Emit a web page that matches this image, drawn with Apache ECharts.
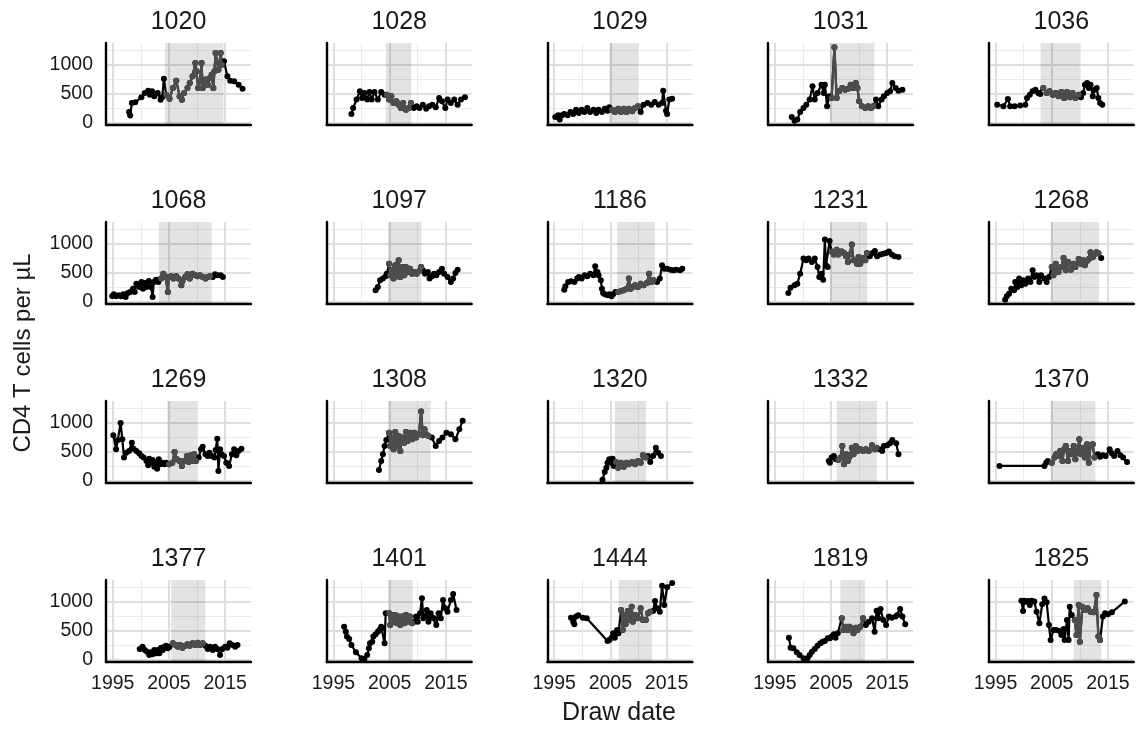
<!DOCTYPE html>
<html>
<head>
<meta charset="utf-8">
<script src="https://cdn.jsdelivr.net/npm/echarts@6/dist/echarts.min.js"></script>
<style>
html,body{margin:0;padding:0;background:#fff;}
#chart{width:1137px;height:731px;}
</style>
</head>
<body>
<div id="chart"></div>
<script>
// ---------- DATA ----------
const ids = ['1020','1028','1029','1031','1036','1068','1097','1186','1231','1268','1269','1308','1320','1332','1370','1377','1401','1444','1819','1825'];

const shadeStart = [2004.3, 2004.3, 2004.85, 2004.8, 2003.0, 2003.2, 2004.7, 2006.2, 2004.8, 2004.8, 2004.7, 2004.7, 2005.8, 2006.0, 2004.8, 2005.4, 2004.7, 2006.5, 2006.65, 2008.9];
const shadeEnd   = [2014.7, 2008.85, 2009.95, 2012.7, 2010.0, 2012.6, 2010.65, 2012.95, 2011.45, 2013.4, 2010.0, 2012.3, 2011.35, 2013.2, 2012.75, 2011.45, 2009.1, 2012.4, 2011.06, 2013.8];

const xTicks = [1995, 2005, 2015];
const xMinor = [2000, 2010];
const yTicks = [0, 500, 1000];
const yMinor = [250, 750, 1250];

const d1020 = [[1997.9,190],[1998.1,130],[1998.4,345],[1999.0,356],[2000.1,443],[2000.7,517],[2001.3,557],[2001.6,489],[2002.0,546],[2002.4,460],[2003.0,517],[2003.5,402],[2003.8,443],[2004.1,765],[2004.5,489],[2005.1,420],[2005.7,604],[2006.3,730],[2006.9,460],[2007.3,402],[2007.7,517],[2008.3,604],[2008.7,690],[2009.2,805],[2009.7,1035],[2009.9,891],[2010.2,604],[2010.5,719],[2010.8,1035],[2011.0,604],[2011.5,748],[2011.9,661],[2012.3,776],[2012.6,834],[2012.9,604],[2013.1,891],[2013.3,1208],[2013.8,920],[2014.2,1208],[2014.4,1006],[2014.8,1064],[2015.4,805],[2015.9,730],[2016.6,719],[2017.4,661],[2018.1,592]];
const d1028 = [[1998.2,155],[1998.5,259],[1999.1,403],[1999.7,546],[2000.1,431],[2000.5,518],[2001.0,403],[2001.4,535],[2001.8,403],[2002.3,535],[2002.9,403],[2003.5,535],[2004.1,489],[2004.5,489],[2004.9,403],[2005.3,460],[2005.7,345],[2006.2,374],[2006.6,316],[2007.0,259],[2007.4,345],[2007.9,230],[2008.4,259],[2008.8,345],[2009.3,259],[2009.8,288],[2010.3,259],[2010.9,316],[2011.5,247],[2012.0,288],[2012.6,316],[2013.2,270],[2013.8,431],[2014.3,374],[2014.9,259],[2015.3,403],[2015.9,345],[2016.5,403],[2017.1,316],[2017.7,403],[2018.4,443]];
const d1029 = [[1995.2,104],[1995.7,132],[1996.0,58],[1996.4,132],[1996.8,155],[1997.4,132],[1997.9,190],[1998.4,155],[1998.9,230],[1999.4,172],[1999.9,230],[2000.4,190],[2000.9,259],[2001.4,190],[2002.0,230],[2002.5,172],[2002.9,230],[2003.5,190],[2004.0,247],[2004.5,213],[2004.8,270],[2005.3,230],[2005.8,190],[2006.4,247],[2006.9,190],[2007.4,247],[2007.9,190],[2008.3,247],[2008.9,201],[2009.4,259],[2009.9,288],[2010.4,190],[2010.9,316],[2011.6,345],[2012.3,316],[2012.9,362],[2013.6,316],[2014.2,345],[2014.4,558],[2014.9,213],[2015.1,155],[2015.5,403],[2016.0,420]];
const d1031 = [[1998.0,104],[1998.5,40],[1999.0,58],[1999.5,190],[2000.1,259],[2000.6,316],[2001.2,403],[2001.7,633],[2002.1,403],[2002.6,518],[2003.3,661],[2003.7,518],[2003.9,661],[2004.3,288],[2004.7,460],[2005.1,431],[2005.6,1305],[2006.0,431],[2006.4,546],[2007.0,604],[2007.5,575],[2008.0,592],[2008.5,661],[2008.9,604],[2009.4,690],[2009.7,604],[2010.0,374],[2010.5,288],[2011.1,259],[2011.6,288],[2012.1,259],[2012.5,288],[2013.0,403],[2013.4,288],[2014.0,403],[2014.4,460],[2015.0,518],[2015.5,546],[2015.9,690],[2016.5,604],[2017.0,558],[2017.7,575]];
const d1036 = [[1995.3,316],[1996.4,288],[1997.2,414],[1997.6,288],[1998.4,288],[1999.4,300],[2000.3,316],[2000.6,431],[2001.1,489],[2001.6,546],[2002.1,575],[2002.6,518],[2002.95,500],[2003.5,604],[2004.1,518],[2004.6,546],[2005.2,489],[2005.7,518],[2006.2,460],[2006.7,535],[2007.2,431],[2007.7,535],[2008.2,443],[2008.7,518],[2009.2,431],[2009.8,489],[2010.2,443],[2010.6,518],[2010.9,661],[2011.3,690],[2011.6,604],[2011.9,661],[2012.3,460],[2012.6,575],[2013.0,604],[2013.3,431],[2013.6,345],[2014.0,316]];
const d1068 = [[1994.9,104],[1995.2,132],[1995.6,98],[1996.1,115],[1996.5,98],[1996.9,132],[1997.3,86],[1997.7,155],[1998.1,172],[1998.6,230],[1998.9,172],[1999.2,316],[1999.7,259],[2000.1,345],[2000.4,230],[2000.7,328],[2001.0,259],[2001.4,362],[2001.8,259],[2002.1,86],[2002.3,345],[2002.7,385],[2003.1,345],[2003.6,403],[2004.0,489],[2004.4,431],[2004.8,172],[2005.0,431],[2005.4,443],[2005.8,403],[2006.3,443],[2006.7,403],[2007.2,288],[2007.4,362],[2007.9,431],[2008.3,477],[2008.7,403],[2009.2,489],[2009.7,460],[2010.1,443],[2010.5,460],[2011.0,431],[2011.5,403],[2011.9,431],[2012.3,443],[2012.8,431],[2013.2,477],[2013.6,460],[2014.2,460],[2014.6,431]];
const d1097 = [[2002.5,201],[2002.9,259],[2003.3,374],[2003.8,403],[2004.3,443],[2004.5,489],[2004.9,661],[2005.1,460],[2005.4,546],[2005.7,403],[2006.0,633],[2006.3,443],[2006.6,719],[2006.9,431],[2007.3,604],[2007.6,460],[2007.9,604],[2008.2,518],[2008.6,575],[2009.0,489],[2009.4,518],[2009.8,489],[2010.3,535],[2010.6,604],[2010.9,546],[2011.3,489],[2011.8,518],[2012.1,403],[2012.5,443],[2012.9,489],[2013.3,460],[2013.8,518],[2014.3,575],[2014.7,489],[2015.3,431],[2015.9,345],[2016.3,403],[2016.7,500],[2017.1,558]];
const d1186 = [[1996.8,213],[1997.0,270],[1997.5,345],[1998.0,356],[1998.6,345],[1999.1,403],[1999.4,431],[1999.9,403],[2000.4,460],[2000.9,443],[2001.4,489],[2002.0,460],[2002.3,615],[2002.7,518],[2002.9,460],[2003.3,374],[2003.5,230],[2003.7,155],[2004.0,132],[2004.5,115],[2004.8,132],[2005.2,98],[2005.5,132],[2005.9,172],[2006.4,172],[2006.9,190],[2007.4,201],[2007.9,230],[2008.3,403],[2008.6,230],[2009.0,259],[2009.4,288],[2009.9,259],[2010.4,316],[2010.9,288],[2011.5,328],[2011.9,489],[2012.3,345],[2012.7,374],[2013.3,345],[2013.8,403],[2014.2,633],[2014.6,575],[2015.1,575],[2015.7,558],[2016.2,546],[2016.7,558],[2017.4,546],[2017.8,575]];
const d1231 = [[1997.4,155],[1997.8,247],[1998.5,288],[1999.0,316],[1999.5,489],[2000.1,748],[2000.6,719],[2001.0,748],[2001.6,690],[2002.1,748],[2002.6,604],[2002.9,431],[2003.3,489],[2003.6,385],[2003.9,1080],[2004.1,633],[2004.4,604],[2004.75,1050],[2005.1,870],[2005.5,820],[2006.0,900],[2006.3,820],[2006.9,870],[2007.3,845],[2007.7,790],[2008.0,690],[2008.3,820],[2008.7,990],[2009.0,719],[2009.6,661],[2009.9,775],[2010.2,661],[2010.7,760],[2011.1,719],[2011.4,845],[2011.9,790],[2012.4,845],[2012.8,880],[2013.2,790],[2013.8,820],[2014.3,830],[2014.8,845],[2015.3,870],[2015.8,820],[2016.3,790],[2017.0,775]];
const d1268 = [[1996.7,40],[1997.0,98],[1997.4,144],[1997.8,230],[1998.3,201],[1998.5,345],[1998.9,259],[1999.2,403],[1999.6,288],[1999.9,374],[2000.3,316],[2000.8,403],[2001.2,345],[2001.6,546],[2001.9,431],[2002.3,460],[2002.8,345],[2003.1,460],[2003.7,403],[2004.1,345],[2004.5,431],[2005.0,604],[2005.3,460],[2005.7,661],[2006.2,518],[2006.7,604],[2007.1,760],[2007.5,546],[2007.9,690],[2008.4,558],[2008.9,661],[2009.2,604],[2009.8,740],[2010.2,661],[2010.6,720],[2010.9,633],[2011.3,710],[2011.6,740],[2011.9,860],[2012.3,770],[2012.6,820],[2012.95,860],[2013.3,840],[2013.8,760]];
const d1269 = [[1995.1,788],[1995.6,546],[1995.9,707],[1996.4,1000],[1996.7,719],[1997.0,403],[1997.4,489],[1997.9,518],[1998.4,661],[1998.7,558],[1999.2,518],[1999.7,477],[2000.1,431],[2000.5,403],[2001.0,345],[2001.3,270],[2001.5,385],[2001.8,316],[2002.1,362],[2002.4,247],[2002.7,316],[2002.9,213],[2003.2,374],[2003.5,288],[2003.8,316],[2004.2,288],[2004.5,316],[2005.0,288],[2005.6,316],[2006.0,500],[2006.4,374],[2006.9,345],[2007.3,259],[2007.7,345],[2008.2,431],[2008.5,328],[2008.9,443],[2009.2,345],[2009.5,460],[2009.8,345],[2010.3,403],[2010.7,546],[2011.0,592],[2011.5,460],[2011.9,431],[2012.2,489],[2012.6,431],[2013.1,403],[2013.3,535],[2013.6,730],[2013.8,172],[2014.1,546],[2014.4,460],[2014.8,431],[2015.2,316],[2015.7,259],[2016.2,460],[2016.6,546],[2017.0,443],[2017.4,518],[2017.9,558]];
const d1308 = [[2003.1,190],[2003.5,345],[2003.8,460],[2004.1,604],[2004.4,707],[2004.9,834],[2005.1,604],[2005.4,748],[2005.7,546],[2006.0,845],[2006.3,604],[2006.6,776],[2006.9,518],[2007.2,748],[2007.6,661],[2007.9,845],[2008.2,690],[2008.6,834],[2009.0,719],[2009.4,834],[2009.7,748],[2010.2,805],[2010.6,1200],[2010.9,788],[2011.2,891],[2011.5,805],[2011.9,776],[2012.5,748],[2013.2,604],[2013.8,690],[2014.4,748],[2015.1,834],[2015.9,805],[2016.7,719],[2017.4,891],[2018.0,1040]];
const d1320 = [[2003.6,20],[2004.0,155],[2004.3,230],[2004.5,316],[2004.8,374],[2005.0,316],[2005.4,385],[2005.6,259],[2006.0,328],[2006.4,230],[2006.9,316],[2007.4,247],[2007.9,316],[2008.3,288],[2008.9,328],[2009.4,288],[2009.9,345],[2010.4,316],[2010.8,443],[2011.3,403],[2011.7,431],[2012.1,328],[2012.6,431],[2013.1,575],[2013.5,489],[2014.0,431]];
const d1332 = [[2004.6,345],[2004.8,316],[2005.1,403],[2005.5,431],[2005.8,374],[2006.3,362],[2006.7,403],[2007.0,604],[2007.3,288],[2007.7,460],[2008.0,345],[2008.3,420],[2008.7,575],[2009.0,460],[2009.4,604],[2009.7,518],[2010.2,546],[2010.7,518],[2011.2,546],[2011.7,518],[2012.3,615],[2012.8,546],[2013.1,575],[2013.6,546],[2014.1,518],[2014.4,604],[2015.0,615],[2015.5,650],[2015.9,707],[2016.6,650],[2017.0,460]];
const d1370 = [[1995.7,259],[2003.7,259],[2004.0,316],[2004.3,345],[2005.0,316],[2005.5,403],[2005.8,460],[2006.2,431],[2006.5,518],[2006.9,345],[2007.2,546],[2007.5,604],[2007.9,345],[2008.2,518],[2008.6,460],[2008.9,604],[2009.2,374],[2009.6,518],[2009.9,719],[2010.2,460],[2010.6,575],[2010.9,403],[2011.3,633],[2011.6,316],[2011.9,604],[2012.3,633],[2012.6,403],[2013.2,460],[2013.6,420],[2014.1,443],[2014.6,431],[2015.3,546],[2015.7,477],[2016.1,431],[2016.7,518],[2017.2,443],[2017.7,403],[2018.4,328]];
const d1377 = [[1999.8,190],[2000.3,230],[2000.7,172],[2001.1,144],[2001.5,86],[2001.8,132],[2002.1,98],[2002.4,172],[2002.7,115],[2003.0,172],[2003.3,115],[2003.6,213],[2003.9,172],[2004.2,230],[2004.5,247],[2004.8,201],[2005.1,230],[2005.7,288],[2006.2,259],[2006.6,230],[2007.0,259],[2007.4,213],[2007.9,247],[2008.3,270],[2008.7,247],[2009.2,288],[2009.7,259],[2010.1,299],[2010.5,259],[2011.0,288],[2011.5,247],[2011.9,190],[2012.3,230],[2012.8,172],[2013.2,230],[2013.6,190],[2014.1,86],[2014.5,190],[2015.0,230],[2015.4,213],[2015.8,288],[2016.3,259],[2016.8,230],[2017.2,259]];
const d1401 = [[1996.9,575],[1997.2,489],[1997.4,403],[1997.8,362],[1998.2,259],[1999.0,132],[2000.0,29],[2000.5,15],[2001.0,86],[2001.3,201],[2001.5,288],[2001.9,316],[2002.1,403],[2002.5,443],[2002.9,489],[2003.2,518],[2003.5,575],[2003.8,546],[2004.1,288],[2004.3,805],[2004.9,805],[2005.1,604],[2005.4,776],[2005.7,661],[2006.0,776],[2006.3,633],[2006.6,748],[2006.9,604],[2007.2,748],[2007.6,633],[2007.9,776],[2008.2,661],[2008.6,748],[2009.0,633],[2009.4,661],[2009.7,748],[2010.0,661],[2010.4,805],[2010.75,1064],[2011.0,719],[2011.3,748],[2011.6,862],[2011.9,661],[2012.3,805],[2012.6,730],[2012.9,719],[2013.3,604],[2013.7,805],[2014.1,719],[2014.5,1035],[2014.9,891],[2015.3,834],[2015.9,1035],[2016.3,1140],[2016.9,862]];
const d1444 = [[1998.0,730],[1998.4,661],[1998.6,615],[1998.9,748],[1999.3,770],[2000.1,730],[2000.8,720],[2004.5,328],[2004.8,345],[2005.2,385],[2005.5,460],[2005.8,385],[2006.2,518],[2006.45,460],[2006.9,862],[2007.2,518],[2007.4,776],[2007.7,615],[2008.1,845],[2008.3,690],[2008.8,920],[2009.0,661],[2009.4,776],[2009.9,719],[2010.4,891],[2010.8,690],[2011.3,690],[2011.7,805],[2012.1,834],[2012.6,845],[2012.95,1018],[2013.3,891],[2013.8,834],[2014.2,1280],[2014.6,949],[2015.1,1255],[2016.0,1330]];
const d1819 = [[1997.5,385],[1997.8,213],[1998.3,201],[1998.9,132],[1999.4,86],[2000.1,29],[2000.8,29],[2001.2,86],[2001.6,144],[2002.1,190],[2002.6,247],[2003.1,288],[2003.5,316],[2003.9,328],[2004.4,374],[2004.8,374],[2005.1,403],[2005.5,443],[2005.8,385],[2006.2,460],[2006.9,719],[2007.2,518],[2007.7,575],[2008.0,518],[2008.3,575],[2008.7,535],[2009.0,460],[2009.4,558],[2009.7,518],[2010.2,575],[2010.7,719],[2011.2,604],[2011.7,661],[2012.3,719],[2012.75,489],[2013.1,850],[2013.4,719],[2013.8,880],[2014.3,690],[2014.8,604],[2015.3,748],[2015.8,730],[2016.5,748],[2016.8,776],[2017.3,880],[2017.7,748],[2018.2,615]];
const d1825 = [[1999.6,1020],[1999.9,845],[2000.1,1020],[2000.4,1006],[2000.8,1018],[2001.1,949],[2001.4,1020],[2001.9,1010],[2002.3,834],[2002.8,633],[2003.3,960],[2003.7,1060],[2004.1,995],[2004.5,604],[2004.8,345],[2005.3,518],[2005.8,518],[2006.4,500],[2006.7,431],[2007.1,535],[2007.3,345],[2007.7,690],[2008.0,345],[2008.2,920],[2008.55,776],[2009.1,690],[2009.4,431],[2009.8,949],[2010.0,316],[2010.45,920],[2010.9,862],[2011.4,891],[2011.9,834],[2012.5,822],[2012.95,1120],[2013.3,403],[2013.6,345],[2014.1,748],[2014.5,805],[2015.0,788],[2015.7,822],[2018.0,1010]];

const panelData = [d1020,d1028,d1029,d1031,d1036,d1068,d1097,d1186,d1231,d1268,d1269,d1308,d1320,d1332,d1370,d1377,d1401,d1444,d1819,d1825];

// ---------- LAYOUT / STYLE ----------
const FONT = '"Liberation Sans", Arial, Helvetica, sans-serif';
const X_MIN = 1993.8, X_MAX = 2019.6, Y_MIN = -35, Y_MAX = 1380;
const G_LEFT = 106, G_TOP = 43, G_W = 145, G_H = 82, DX = 220.7, DY = 179;
const MAJOR = {color:'#dedede', width:2, type:'solid'};
const MINOR = {color:'#ebebeb', width:1.1, type:'solid'};

const grids = [], xAxes = [], yAxes = [], series = [], graphics = [];
ids.forEach((id, i) => {
  const r = Math.floor(i / 5), c = i % 5;
  const left = G_LEFT + c * DX, top = G_TOP + r * DY;
  grids.push({left: left, top: top, width: G_W, height: G_H, containLabel: false});
  xAxes.push({
    gridIndex: i, type: 'value', min: X_MIN, max: X_MAX, z: 20,
    axisLine: {show: true, onZero: false, lineStyle: {color: '#000', width: 2.4}},
    axisTick: {show: false}, splitLine: {show: false},
    axisLabel: {show: r === 3, customValues: xTicks, fontSize: 19.5, color: '#1a1a1a', fontFamily: FONT, margin: 12,
      formatter: v => String(Math.round(v))}
  });
  yAxes.push({
    gridIndex: i, type: 'value', min: Y_MIN, max: Y_MAX, z: 20,
    axisLine: {show: true, onZero: false, lineStyle: {color: '#000', width: 2.4}},
    axisTick: {show: false}, splitLine: {show: false},
    axisLabel: {show: c === 0, customValues: yTicks, fontSize: 19.5, color: '#1a1a1a', fontFamily: FONT, margin: 13,
      formatter: v => String(Math.round(v))}
  });
  const gl = [];
  yMinor.forEach(v => gl.push({yAxis: v, lineStyle: MINOR}));
  xMinor.forEach(v => gl.push({xAxis: v, lineStyle: MINOR}));
  yTicks.forEach(v => gl.push({yAxis: v, lineStyle: MAJOR}));
  xTicks.forEach(v => gl.push({xAxis: v, lineStyle: MAJOR}));
  series.push({
    type: 'line', xAxisIndex: i, yAxisIndex: i, data: [], z: 1, silent: true,
    markLine: {z: 1, silent: true, symbol: ['none','none'], label: {show: false}, animation: false, data: gl}
  });
  series.push({
    type: 'line', xAxisIndex: i, yAxisIndex: i, data: [], z: 2, silent: true,
    markArea: {z: 2, silent: true, animation: false, itemStyle: {color: 'rgba(0,0,0,0.11)'},
      data: [[{xAxis: shadeStart[i]}, {xAxis: shadeEnd[i]}]]}
  });
  const pts = panelData[i];
  series.push({
    type: 'line', xAxisIndex: i, yAxisIndex: i, data: pts, z: 10,
    symbol: 'circle', symbolSize: 6, showSymbol: true, showAllSymbol: true,
    lineStyle: {color: '#000', width: 2.2}, itemStyle: {color: '#000'}, animation: false
  });
  series.push({
    type: 'line', xAxisIndex: i, yAxisIndex: i,
    data: pts.filter(p => p[0] >= shadeStart[i] && p[0] <= shadeEnd[i]), z: 11,
    symbol: 'circle', symbolSize: 6, showSymbol: true, showAllSymbol: true,
    lineStyle: {color: '#4d4d4d', width: 2.2}, itemStyle: {color: '#4d4d4d'}, animation: false
  });
  graphics.push({type: 'text', x: left + G_W / 2, y: 22 + r * DY, silent: true,
    style: {text: id, fontSize: 25, fontFamily: FONT, fill: '#1a1a1a', align: 'center', verticalAlign: 'middle'}});
});
graphics.push({type: 'text', x: 23, y: 353, rotation: Math.PI / 2, silent: true,
  style: {text: 'CD4 T cells per µL', fontSize: 24, fontFamily: FONT, fill: '#1a1a1a', align: 'center', verticalAlign: 'middle'}});
graphics.push({type: 'text', x: 619, y: 713, silent: true,
  style: {text: 'Draw date', fontSize: 25, fontFamily: FONT, fill: '#1a1a1a', align: 'center', verticalAlign: 'middle'}});

const chart = echarts.init(document.getElementById('chart'), null, {renderer: 'canvas'});
chart.setOption({
  animation: false,
  backgroundColor: '#ffffff',
  grid: grids, xAxis: xAxes, yAxis: yAxes, series: series, graphic: graphics
});
</script>
</body>
</html>
